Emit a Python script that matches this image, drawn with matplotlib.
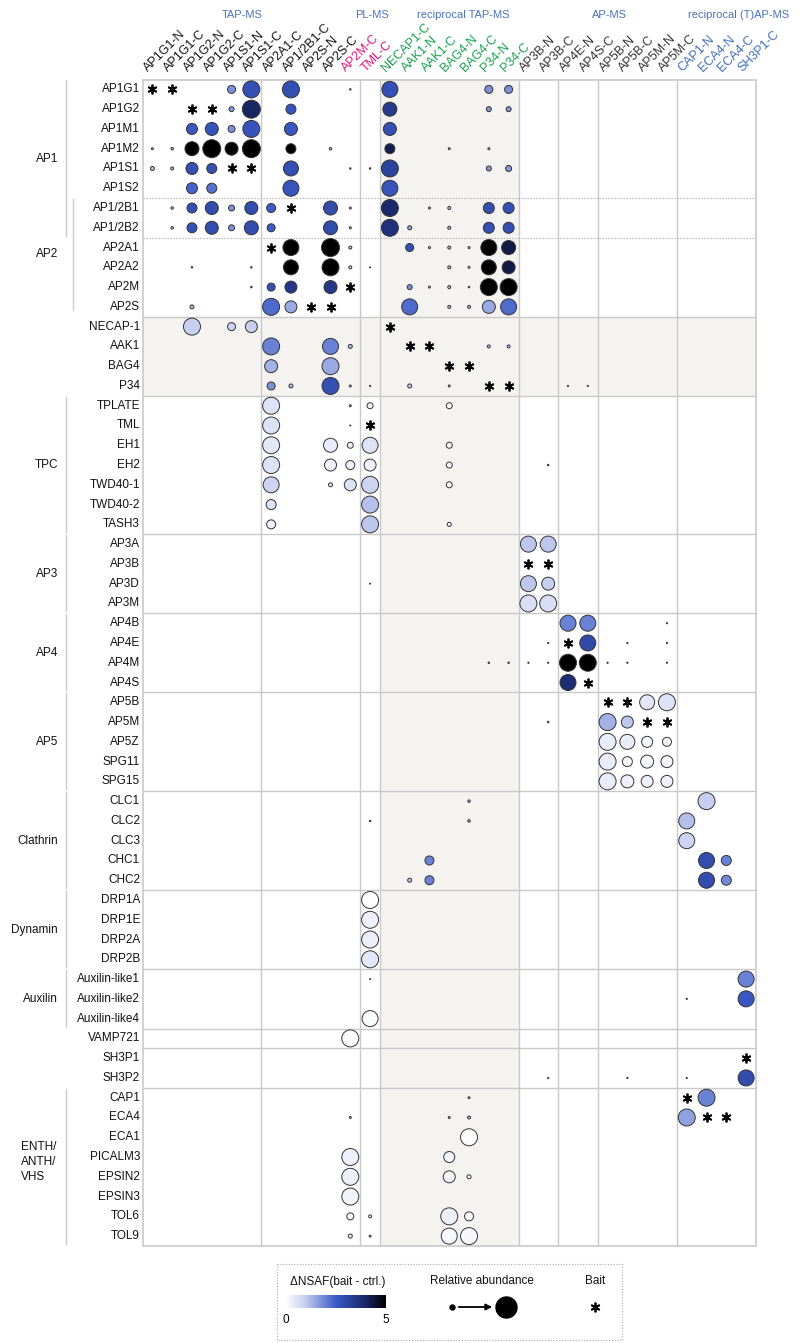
import matplotlib
matplotlib.use('Agg')
import matplotlib.pyplot as plt
from matplotlib.colors import LinearSegmentedColormap
from matplotlib.patches import Rectangle
import numpy as np

plt.rcParams['font.family'] = ['Liberation Sans', 'DejaVu Sans']

# ---------------- data ----------------
columns = ["AP1G1-N", "AP1G1-C", "AP1G2-N", "AP1G2-C", "AP1S1-N", "AP1S1-C",
           "AP2A1-C", "AP1/2B1-C", "AP2S-N", "AP2S-C", "AP2M-C", "TML-C",
           "NECAP1-C", "AAK1-N", "AAK1-C", "BAG4-N", "BAG4-C", "P34-N", "P34-C",
           "AP3B-N", "AP3B-C", "AP4E-N", "AP4S-C", "AP5B-N", "AP5B-C", "AP5M-N", "AP5M-C",
           "CAP1-N", "ECA4-N", "ECA4-C", "SH3P1-C"]
column_method = (["TAP-MS"] * 10 + ["PL-MS"] * 2 + ["reciprocal TAP-MS"] * 7 +
                 ["AP-MS"] * 8 + ["reciprocal (T)AP-MS"] * 4)
method_colors = {"TAP-MS": "#111111", "PL-MS": "#e0157d", "reciprocal TAP-MS": "#17a04c",
                 "AP-MS": "#333333", "reciprocal (T)AP-MS": "#3f6cb9"}
method_header_x = {"TAP-MS": 4.55, "PL-MS": 11.1, "reciprocal TAP-MS": 15.7,
                   "AP-MS": 23.1, "reciprocal (T)AP-MS": 29.6}

rows = ["AP1G1", "AP1G2", "AP1M1", "AP1M2", "AP1S1", "AP1S2",
        "AP1/2B1", "AP1/2B2",
        "AP2A1", "AP2A2", "AP2M", "AP2S",
        "NECAP-1", "AAK1", "BAG4", "P34",
        "TPLATE", "TML", "EH1", "EH2", "TWD40-1", "TWD40-2", "TASH3",
        "AP3A", "AP3B", "AP3D", "AP3M",
        "AP4B", "AP4E", "AP4M", "AP4S",
        "AP5B", "AP5M", "AP5Z", "SPG11", "SPG15",
        "CLC1", "CLC2", "CLC3", "CHC1", "CHC2",
        "DRP1A", "DRP1E", "DRP2A", "DRP2B",
        "Auxilin-like1", "Auxilin-like2", "Auxilin-like4",
        "VAMP721",
        "SH3P1", "SH3P2",
        "CAP1", "ECA4", "ECA1", "PICALM3", "EPSIN2", "EPSIN3", "TOL6", "TOL9"]

# (label, first row, last row)
groups = [("AP1", "AP1G1", "AP1/2B2"), ("AP2", "AP1/2B1", "AP2S"),
          ("TPC", "TPLATE", "TASH3"), ("AP3", "AP3A", "AP3M"), ("AP4", "AP4B", "AP4S"),
          ("AP5", "AP5B", "SPG15"), ("Clathrin", "CLC1", "CHC2"),
          ("Dynamin", "DRP1A", "DRP2B"), ("Auxilin", "Auxilin-like1", "Auxilin-like4"),
          ("ENTH/\nANTH/\nVHS", "CAP1", "TOL9")]

# hits: (prey, bait column, dNSAF (bait - ctrl), relative abundance)
hits_AP1 = [
    ("AP1G1", "AP1S1-N", 1.8, 8), ("AP1G1", "AP1S1-C", 2.8, 17), ("AP1G1", "AP1/2B1-C", 2.8, 17),
    ("AP1G1", "AP2M-C", 0.3, 1.5), ("AP1G1", "NECAP1-C", 2.8, 16), ("AP1G1", "P34-N", 1.8, 8),
    ("AP1G1", "P34-C", 1.8, 8),
    ("AP1G2", "AP1S1-N", 1.7, 5), ("AP1G2", "AP1S1-C", 4.0, 18), ("AP1G2", "AP1/2B1-C", 2.7, 10),
    ("AP1G2", "NECAP1-C", 3.4, 14), ("AP1G2", "P34-N", 1.7, 5), ("AP1G2", "P34-C", 1.7, 5),
    ("AP1M1", "AP1G2-N", 2.6, 11), ("AP1M1", "AP1G2-C", 2.7, 13), ("AP1M1", "AP1S1-N", 1.8, 7),
    ("AP1M1", "AP1S1-C", 2.7, 17), ("AP1M1", "AP1/2B1-C", 2.6, 13), ("AP1M1", "NECAP1-C", 2.8, 13),
    ("AP1M2", "AP1G1-N", 1.0, 2), ("AP1M2", "AP1G1-C", 1.0, 2.5), ("AP1M2", "AP1G2-N", 5.0, 14),
    ("AP1M2", "AP1G2-C", 5.0, 18), ("AP1M2", "AP1S1-N", 5.0, 13), ("AP1M2", "AP1S1-C", 5.0, 18),
    ("AP1M2", "AP1/2B1-C", 5.0, 10), ("AP1M2", "AP2S-C", 1.0, 2.5), ("AP1M2", "NECAP1-C", 4.2, 10),
    ("AP1M2", "BAG4-N", 1.0, 2), ("AP1M2", "P34-N", 1.0, 2),
    ("AP1S1", "AP1G1-N", 1.2, 4), ("AP1S1", "AP1G1-C", 1.2, 3), ("AP1S1", "AP1G2-N", 2.8, 12),
    ("AP1S1", "AP1G2-C", 2.8, 10), ("AP1S1", "AP1/2B1-C", 2.8, 15), ("AP1S1", "AP2M-C", 0.5, 1.5),
    ("AP1S1", "TML-C", 0.5, 1.5), ("AP1S1", "NECAP1-C", 3.2, 17), ("AP1S1", "P34-N", 1.7, 5),
    ("AP1S1", "P34-C", 1.7, 6),
    ("AP1S2", "AP1G2-N", 2.4, 11), ("AP1S2", "AP1G2-C", 2.2, 10), ("AP1S2", "AP1/2B1-C", 2.7, 16),
    ("AP1S2", "NECAP1-C", 2.7, 16),
]
hits_AP12 = [
    ("AP1/2B1", "AP1G1-C", 1.0, 2.5), ("AP1/2B1", "AP1G2-N", 2.8, 10), ("AP1/2B1", "AP1G2-C", 2.9, 13),
    ("AP1/2B1", "AP1S1-N", 1.8, 6), ("AP1/2B1", "AP1S1-C", 2.9, 13), ("AP1/2B1", "AP2A1-C", 2.5, 9),
    ("AP1/2B1", "AP2S-C", 2.9, 14), ("AP1/2B1", "AP2M-C", 1.0, 2), ("AP1/2B1", "NECAP1-C", 3.9, 17),
    ("AP1/2B1", "AAK1-C", 1.0, 2), ("AP1/2B1", "BAG4-N", 1.2, 3), ("AP1/2B1", "P34-N", 2.8, 11),
    ("AP1/2B1", "P34-C", 2.8, 11),
    ("AP1/2B2", "AP1G1-C", 1.0, 2.5), ("AP1/2B2", "AP1G2-N", 2.8, 10), ("AP1/2B2", "AP1G2-C", 2.9, 13),
    ("AP1/2B2", "AP1S1-N", 1.8, 6), ("AP1/2B2", "AP1S1-C", 2.9, 14), ("AP1/2B2", "AP2A1-C", 2.5, 8),
    ("AP1/2B2", "AP2S-C", 2.9, 14), ("AP1/2B2", "AP2M-C", 1.0, 2), ("AP1/2B2", "NECAP1-C", 3.7, 17),
    ("AP1/2B2", "AAK1-N", 1.5, 4), ("AP1/2B2", "BAG4-N", 1.2, 3), ("AP1/2B2", "P34-N", 2.8, 11),
    ("AP1/2B2", "P34-C", 2.8, 11),
]
hits_AP2 = [
    ("AP2A1", "AP1/2B1-C", 5.0, 16), ("AP2A1", "AP2S-C", 5.0, 18), ("AP2A1", "AP2M-C", 1.0, 3),
    ("AP2A1", "AAK1-N", 2.8, 8), ("AP2A1", "AAK1-C", 1.0, 2), ("AP2A1", "BAG4-N", 1.2, 3),
    ("AP2A1", "BAG4-C", 1.0, 2), ("AP2A1", "P34-N", 5.0, 16), ("AP2A1", "P34-C", 4.3, 14),
    ("AP2A2", "AP1G2-N", 1.0, 1.5), ("AP2A2", "AP1S1-C", 1.0, 1.5), ("AP2A2", "AP1/2B1-C", 5.0, 15),
    ("AP2A2", "AP2S-C", 5.0, 17), ("AP2A2", "AP2M-C", 1.0, 3), ("AP2A2", "TML-C", 0.5, 1),
    ("AP2A2", "BAG4-N", 1.2, 3), ("AP2A2", "BAG4-C", 1.0, 2), ("AP2A2", "P34-N", 5.0, 15),
    ("AP2A2", "P34-C", 4.3, 13),
    ("AP2M", "AP1S1-C", 1.0, 1.5), ("AP2M", "AP2A1-C", 2.8, 8), ("AP2M", "AP1/2B1-C", 3.5, 12),
    ("AP2M", "AP2S-C", 3.5, 13), ("AP2M", "AAK1-N", 1.8, 5), ("AP2M", "AAK1-C", 1.0, 2),
    ("AP2M", "BAG4-N", 1.2, 3), ("AP2M", "BAG4-C", 1.0, 1.5), ("AP2M", "P34-N", 5.0, 17),
    ("AP2M", "P34-C", 5.0, 17),
    ("AP2S", "AP1G2-N", 1.2, 4), ("AP2S", "AP2A1-C", 2.3, 17), ("AP2S", "AP1/2B1-C", 1.5, 12),
    ("AP2S", "AAK1-N", 2.3, 16), ("AP2S", "BAG4-N", 1.2, 3), ("AP2S", "BAG4-C", 1.2, 3),
    ("AP2S", "P34-N", 1.5, 13), ("AP2S", "P34-C", 2.3, 16),
]
hits_accessory = [
    ("NECAP-1", "AP1G2-N", 1.0, 17), ("NECAP-1", "AP1S1-N", 0.9, 8), ("NECAP-1", "AP1S1-C", 1.0, 12),
    ("AAK1", "AP2A1-C", 2.0, 17), ("AAK1", "AP2S-C", 2.0, 16), ("AAK1", "AP2M-C", 1.2, 4),
    ("AAK1", "P34-N", 1.2, 3), ("AAK1", "P34-C", 1.2, 3),
    ("BAG4", "AP2A1-C", 1.4, 13), ("BAG4", "AP2S-C", 1.5, 17),
    ("P34", "AP2A1-C", 1.8, 8), ("P34", "AP1/2B1-C", 1.2, 4), ("P34", "AP2S-C", 2.8, 17),
    ("P34", "AP2M-C", 1.0, 2), ("P34", "TML-C", 0.3, 1.2), ("P34", "AAK1-N", 1.0, 4),
    ("P34", "BAG4-N", 1.0, 2), ("P34", "AP4E-N", 0.3, 1.2), ("P34", "AP4S-C", 0.3, 1.2),
]
hits_TPC = [
    ("TPLATE", "AP2A1-C", 0.6, 17), ("TPLATE", "AP2M-C", 1.0, 2), ("TPLATE", "TML-C", 0.15, 6),
    ("TPLATE", "BAG4-N", 0.1, 6),
    ("TML", "AP2A1-C", 0.6, 17), ("TML", "AP2M-C", 0.5, 1),
    ("EH1", "AP2A1-C", 0.5, 17), ("EH1", "AP2S-C", 0.4, 14), ("EH1", "AP2M-C", 0.3, 6),
    ("EH1", "TML-C", 0.6, 16), ("EH1", "BAG4-N", 0.1, 6),
    ("EH2", "AP2A1-C", 0.6, 17), ("EH2", "AP2S-C", 0.3, 12), ("EH2", "AP2M-C", 0.3, 9),
    ("EH2", "TML-C", 0.3, 12), ("EH2", "BAG4-N", 0.1, 6), ("EH2", "AP3B-C", 1.0, 1.5),
    ("TWD40-1", "AP2A1-C", 0.9, 16), ("TWD40-1", "AP2S-C", 0.4, 4), ("TWD40-1", "AP2M-C", 0.6, 12),
    ("TWD40-1", "TML-C", 0.9, 17), ("TWD40-1", "BAG4-N", 0.1, 6),
    ("TWD40-2", "AP2A1-C", 0.6, 10), ("TWD40-2", "TML-C", 1.2, 17),
    ("TASH3", "AP2A1-C", 0.3, 9), ("TASH3", "TML-C", 1.1, 17), ("TASH3", "BAG4-N", 0.2, 4),
]
hits_AP345 = [
    ("AP3A", "AP3B-N", 1.1, 16), ("AP3A", "AP3B-C", 1.1, 16),
    ("AP3D", "TML-C", 0.5, 1), ("AP3D", "AP3B-N", 1.1, 16), ("AP3D", "AP3B-C", 1.0, 13),
    ("AP3M", "AP3B-N", 0.7, 17), ("AP3M", "AP3B-C", 0.7, 17),
    ("AP4B", "AP4E-N", 2.0, 16), ("AP4B", "AP4S-C", 2.0, 16), ("AP4B", "AP5M-C", 0.3, 1.2),
    ("AP4E", "AP3B-C", 0.3, 1.2), ("AP4E", "AP4S-C", 3.0, 16), ("AP4E", "AP5B-C", 0.3, 1.2),
    ("AP4E", "AP5M-C", 0.3, 1.2),
    ("AP4M", "P34-N", 1.0, 1.5), ("AP4M", "P34-C", 1.0, 1.5), ("AP4M", "AP3B-N", 0.3, 1.2),
    ("AP4M", "AP3B-C", 0.3, 1.2), ("AP4M", "AP4E-N", 5.0, 17), ("AP4M", "AP4S-C", 5.0, 17),
    ("AP4M", "AP5B-N", 0.3, 1.2), ("AP4M", "AP5B-C", 0.3, 1.2), ("AP4M", "AP5M-C", 0.3, 1.2),
    ("AP4S", "AP4E-N", 3.8, 16),
    ("AP5B", "AP5M-N", 0.5, 15), ("AP5B", "AP5M-C", 0.6, 17),
    ("AP5M", "AP3B-C", 1.0, 1.5), ("AP5M", "AP5B-N", 1.4, 17), ("AP5M", "AP5B-C", 1.1, 12),
    ("AP5Z", "AP5B-N", 0.4, 17), ("AP5Z", "AP5B-C", 0.4, 15), ("AP5Z", "AP5M-N", 0.2, 11),
    ("AP5Z", "AP5M-C", 0.2, 9),
    ("SPG11", "AP5B-N", 0.4, 17), ("SPG11", "AP5B-C", 0.1, 10), ("SPG11", "AP5M-N", 0.2, 13),
    ("SPG11", "AP5M-C", 0.2, 12),
    ("SPG15", "AP5B-N", 0.4, 17), ("SPG15", "AP5B-C", 0.3, 13), ("SPG15", "AP5M-N", 0.3, 12),
    ("SPG15", "AP5M-C", 0.3, 12),
]
hits_other = [
    ("CLC1", "BAG4-C", 1.2, 2.5), ("CLC1", "ECA4-N", 1.0, 17),
    ("CLC2", "TML-C", 1.0, 1.5), ("CLC2", "BAG4-C", 1.2, 2.5), ("CLC2", "CAP1-N", 1.2, 16),
    ("CLC3", "CAP1-N", 0.9, 16),
    ("CHC1", "AAK1-C", 2.0, 9), ("CHC1", "ECA4-N", 2.9, 16), ("CHC1", "ECA4-C", 2.0, 10),
    ("CHC2", "AAK1-N", 1.0, 4), ("CHC2", "AAK1-C", 2.0, 9), ("CHC2", "ECA4-N", 2.9, 16),
    ("CHC2", "ECA4-C", 1.9, 10),
    ("DRP1A", "TML-C", 0.05, 17), ("DRP1E", "TML-C", 0.3, 17), ("DRP2A", "TML-C", 0.35, 17),
    ("DRP2B", "TML-C", 0.5, 17),
    ("Auxilin-like1", "TML-C", 0.5, 1), ("Auxilin-like1", "SH3P1-C", 2.0, 16),
    ("Auxilin-like2", "CAP1-N", 0.3, 1.2), ("Auxilin-like2", "SH3P1-C", 2.6, 16),
    ("Auxilin-like4", "TML-C", 0.1, 16),
    ("VAMP721", "AP2M-C", 0.05, 17),
    ("SH3P2", "AP3B-C", 0.3, 1.2), ("SH3P2", "AP5B-C", 0.3, 1.2), ("SH3P2", "CAP1-N", 0.3, 1.2),
    ("SH3P2", "SH3P1-C", 2.9, 16),
]
hits_ENTH = [
    ("CAP1", "BAG4-C", 1.0, 2), ("CAP1", "ECA4-N", 2.0, 17),
    ("ECA4", "AP2M-C", 1.0, 2), ("ECA4", "BAG4-N", 1.0, 2), ("ECA4", "BAG4-C", 1.2, 3),
    ("ECA4", "CAP1-N", 1.6, 17),
    ("ECA1", "BAG4-C", 0.05, 17),
    ("PICALM3", "AP2M-C", 0.3, 17), ("PICALM3", "BAG4-N", 0.2, 11),
    ("EPSIN2", "AP2M-C", 0.3, 17), ("EPSIN2", "BAG4-N", 0.2, 12), ("EPSIN2", "BAG4-C", 0.2, 4),
    ("EPSIN3", "AP2M-C", 0.25, 17),
    ("TOL6", "AP2M-C", 0.05, 7), ("TOL6", "TML-C", 0.3, 3), ("TOL6", "BAG4-N", 0.35, 17),
    ("TOL6", "BAG4-C", 0.1, 9),
    ("TOL9", "AP2M-C", 0.3, 4), ("TOL9", "TML-C", 1.0, 2), ("TOL9", "BAG4-N", 0.15, 16),
    ("TOL9", "BAG4-C", 0.2, 17),
]

baits = [("AP1G1", "AP1G1-N"), ("AP1G1", "AP1G1-C"), ("AP1G2", "AP1G2-N"), ("AP1G2", "AP1G2-C"),
         ("AP1S1", "AP1S1-N"), ("AP1S1", "AP1S1-C"), ("AP1/2B1", "AP1/2B1-C"), ("AP2A1", "AP2A1-C"),
         ("AP2M", "AP2M-C"), ("AP2S", "AP2S-N"), ("AP2S", "AP2S-C"), ("NECAP-1", "NECAP1-C"),
         ("AAK1", "AAK1-N"), ("AAK1", "AAK1-C"), ("BAG4", "BAG4-N"), ("BAG4", "BAG4-C"),
         ("P34", "P34-N"), ("P34", "P34-C"), ("TML", "TML-C"), ("AP3B", "AP3B-N"), ("AP3B", "AP3B-C"),
         ("AP4E", "AP4E-N"), ("AP4S", "AP4S-C"), ("AP5B", "AP5B-N"), ("AP5B", "AP5B-C"),
         ("AP5M", "AP5M-N"), ("AP5M", "AP5M-C"), ("SH3P1", "SH3P1-C"), ("CAP1", "CAP1-N"),
         ("ECA4", "ECA4-N"), ("ECA4", "ECA4-C")]

col_breaks = ["AP1S1-C", "AP2M-C", "TML-C", "P34-C", "AP3B-C", "AP4S-C", "AP5M-C"]
row_breaks_solid = ["AP2S", "P34", "TASH3", "AP3M", "AP4S", "SPG15", "CHC2", "DRP2B",
                    "Auxilin-like4", "VAMP721", "SH3P2"]
row_breaks_dotted = ["AP1S2", "AP1/2B2"]
shaded_cols = ("NECAP1-C", "P34-C")
shaded_rows = ("NECAP-1", "P34")

# ---------------- figure ----------------
W, H = 800, 1343
fig = plt.figure(figsize=(W / 100, H / 100), dpi=100)
L, R, T, B = 142.5, 756, 79.5, 1246
ax = fig.add_axes([L / W, 1 - B / H, (R - L) / W, (B - T) / H])
ncol, nrow = len(columns), len(rows)
ax.set_xlim(-0.5, ncol - 0.5)
ax.set_ylim(nrow - 0.5, -0.5)
ax.axis('off')

ci = {c: i for i, c in enumerate(columns)}
ri = {r: i for i, r in enumerate(rows)}

shade = "#f5f3f0"
ax.axvspan(ci[shaded_cols[0]] - 0.5, ci[shaded_cols[1]] + 0.5, color=shade, zorder=0, lw=0)
ax.axhspan(ri[shaded_rows[0]] - 0.5, ri[shaded_rows[1]] + 0.5, color=shade, zorder=0, lw=0)

gc = "#c9c9c9"
for c in col_breaks:
    ax.axvline(ci[c] + 0.5, color=gc, lw=1.0, zorder=1)
for r in row_breaks_solid:
    ax.axhline(ri[r] + 0.5, color=gc, lw=1.0, zorder=1)
for r in row_breaks_dotted:
    ax.axhline(ri[r] + 0.5, color="#b0b0b0", lw=0.8, ls=(0, (1.2, 1.5)), zorder=1)
ax.add_patch(Rectangle((-0.5, -0.5), ncol, nrow, fill=False, ec=gc, lw=1.2, zorder=1, clip_on=False))

cmap = LinearSegmentedColormap.from_list(
    "nsaf", [(0.0, "#ffffff"), (0.2, "#c6cff0"), (0.5, "#3b5bc8"), (0.78, "#1b2a6e"), (1.0, "#000000")])

all_hits = hits_AP1 + hits_AP12 + hits_AP2 + hits_accessory + hits_TPC + hits_AP345 + hits_other + hits_ENTH
hx = np.array([ci[h[1]] for h in all_hits])
hy = np.array([ri[h[0]] for h in all_hits])
hv = np.array([h[2] for h in all_hits])
ha = np.array([h[3] for h in all_hits], dtype=float)
sizes = (ha * 0.72) ** 2
ax.scatter(hx, hy, s=sizes, c=hv, cmap=cmap, vmin=0, vmax=5, edgecolors="#333333",
           linewidths=0.7, zorder=3, clip_on=False)

bx = [ci[b[1]] for b in baits]
by = [ri[b[0]] for b in baits]
ax.plot(bx, by, ls='none', marker=(6, 2, 0), ms=7, mew=1.3, color='black', zorder=4)

# row labels
for r, i in ri.items():
    ax.text(-0.63, i, r, ha='right', va='center', fontsize=8.5, color='#111111', clip_on=False)

# group labels and lines
for lab, r0, r1 in groups:
    i0, i1 = ri[r0], ri[r1]
    xl = -4.03 if lab == "AP2" else -4.38
    y0 = i0 - 0.45
    y1 = i1 + 0.4
    if lab == "AP2":
        y1 = i1 + 0.15
    ax.plot([xl, xl], [y0, y1], color="#cccccc", lw=1.0, clip_on=False)
    if lab.startswith("ENTH"):
        ax.text(-6.64, (i0 + i1) / 2 - 0.25, lab, ha='left', va='center', fontsize=8.5,
                linespacing=1.3, color='#111111', clip_on=False)
    else:
        yc = (y0 + y1) / 2 if lab == "AP2" else (i0 + i1) / 2
        ax.text(-4.77, yc, lab, ha='right', va='center', fontsize=8.5, color='#111111', clip_on=False)

# column labels
for c, i in ci.items():
    ax.text(i - 0.2, -0.88, c, rotation=45, rotation_mode='anchor', ha='left', va='baseline',
            fontsize=9, color=method_colors[column_method[i]], clip_on=False)

for m, xm in method_header_x.items():
    ax.text(xm, -3.76, m, ha='center', va='center', fontsize=8, color="#4a74b8", clip_on=False)

# ---------------- legend ----------------
lg = fig.add_axes([0, 0, 1, 1])
lg.patch.set_alpha(0)
lg.axis('off')
lg.add_patch(Rectangle((277, 1264), 345, 76, fill=False, ec="#aaaaaa", lw=0.8, ls=(0, (1, 1.5))))
lg.text(338, 1282, "ΔNSAF(bait - ctrl.)", ha='center', va='center', fontsize=8.5, color='#111111')
grad = np.linspace(0, 1, 256)[None, :]
lg.imshow(grad, cmap=cmap, aspect='auto', extent=(285, 386, 1308, 1295), zorder=2)
lg.text(286, 1320, "0", ha='center', va='center', fontsize=8.5)
lg.text(386, 1320, "5", ha='center', va='center', fontsize=8.5)
lg.text(482, 1281, "Relative abundance", ha='center', va='center', fontsize=8.5, color='#111111')
lg.scatter([452], [1307], s=(5 * 0.72) ** 2, color='black', zorder=3)
lg.scatter([506], [1307], s=(21 * 0.72) ** 2, color='black', zorder=3)
lg.annotate("", xy=(495, 1307), xytext=(456, 1307),
            arrowprops=dict(arrowstyle='-|>', color='black', lw=1.3, mutation_scale=9))
lg.text(595, 1281, "Bait", ha='center', va='center', fontsize=8.5, color='#111111')
lg.plot([595], [1307], ls='none', marker=(6, 2, 0), ms=7, mew=1.3, color='black')
lg.set_xlim(0, W)
lg.set_ylim(H, 0)

fig.savefig("out.png", dpi=100)
